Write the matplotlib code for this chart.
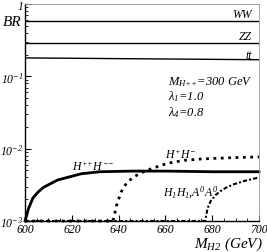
import numpy as np
import matplotlib
matplotlib.use('Agg')
import matplotlib.pyplot as plt
from matplotlib.ticker import FixedLocator, LogLocator, MultipleLocator, NullFormatter

plt.rcParams['font.family'] = ['Liberation Serif', 'DejaVu Serif']
plt.rcParams['font.style'] = 'italic'
plt.rcParams['mathtext.fontset'] = 'custom'
plt.rcParams['mathtext.rm'] = 'Liberation Serif:italic'
plt.rcParams['mathtext.it'] = 'Liberation Serif:italic'
plt.rcParams['mathtext.bf'] = 'Liberation Serif:bold:italic'

# flat channels
m_flat = [600, 700]
br_ww = [0.58, 0.58]
br_zz = [0.29, 0.29]
br_tt = [0.18, 0.17]

# H++ H--
m_hpp = [600, 601.5, 603.4, 605.5, 607.7, 611, 614, 618, 624, 632, 646, 660, 680, 700]
br_hpp = [0.001, 0.0015, 0.0021, 0.0025, 0.0029, 0.0033, 0.0037, 0.0040, 0.0045, 0.0048, 0.0049, 0.0049, 0.0048, 0.0048]

# H+ H-
m_hp = [600, 637.6, 639, 641, 643, 646, 650, 654, 661, 668, 675, 688, 700]
br_hp = [0.001, 0.001, 0.0016, 0.0025, 0.0032, 0.0040, 0.0047, 0.0053, 0.0063, 0.0069, 0.0072, 0.0075, 0.0077]

# H1 H1, A0 A0
m_h1 = [600, 677, 678, 679.4, 681.5, 683.6, 686, 689, 694, 700]
br_h1 = [0.001, 0.001, 0.0015, 0.0019, 0.0023, 0.0026, 0.0029, 0.0032, 0.0036, 0.0040]

fig = plt.figure(figsize=(2.67, 2.53), dpi=100)
ax = fig.add_axes([0.094, 0.1225, 0.876, 0.8575])

ax.plot(m_flat, br_ww, 'k-', lw=1.0)
ax.plot(m_flat, br_zz, 'k-', lw=1.0)
ax.plot(m_flat, br_tt, 'k-', lw=1.0)
ax.plot(m_hpp, br_hpp, 'k-', lw=2.0, clip_on=False)
ax.plot(m_hp, br_hp, 'k:', lw=2.0, clip_on=False)
ax.plot(m_h1, br_h1, color='k', ls=(0, (2, 1, 1, 1)), lw=1.5, clip_on=False)

ax.set_yscale('log')
ax.set_xlim(600, 700)
ax.set_ylim(1e-3, 1)

ax.xaxis.set_major_locator(MultipleLocator(20))
ax.xaxis.set_minor_locator(MultipleLocator(5))
ax.yaxis.set_major_locator(FixedLocator([1e-3, 1e-2, 1e-1, 1]))
ax.yaxis.set_minor_locator(LogLocator(base=10, subs=np.arange(2, 10)))
ax.yaxis.set_minor_formatter(NullFormatter())
ax.set_yticklabels(['$10^{-3}$', '$10^{-2}$', '$10^{-1}$', '$1$'])

ax.tick_params(which='both', direction='in', labelsize=8.5, top=False, right=False)
ax.tick_params(which='major', length=4, width=0.8)
ax.tick_params(which='minor', length=2, width=0.6)
ax.tick_params(axis='y', pad=1)
ax.tick_params(axis='x', pad=1.5)

for s in ['top', 'right']:
    ax.spines[s].set_color('0.6')
    ax.spines[s].set_linewidth(0.6)
ax.spines['left'].set_linewidth(1.0)
ax.spines['bottom'].set_linewidth(1.0)

fig.text(0.045, 0.913, 'BR', fontsize=11, ha='center', va='center')
fig.text(0.985, 0.035, '$M_{H2}$ (GeV)', fontsize=11, ha='right', va='center')

ax.text(697, 0.73, 'WW', fontsize=8.5, ha='right', va='center')
ax.text(697, 0.36, 'ZZ', fontsize=8.5, ha='right', va='center')
ax.text(697, 0.20, 'tt', fontsize=8.5, ha='right', va='center')
ax.text(661, 0.087, '$M_{H{+}{+}}$=300 GeV', fontsize=9, ha='left', va='center')
ax.text(661, 0.054, '$\\lambda_1$=1.0', fontsize=9, ha='left', va='center')
ax.text(661, 0.033, '$\\lambda_4$=0.8', fontsize=9, ha='left', va='center')
ax.text(620, 0.0058, '$H^{{+}{+}}H^{{-}{-}}$', fontsize=8.5, ha='left', va='center')
ax.text(660, 0.0085, '$H^{+}H^{-}$', fontsize=8.5, ha='left', va='center')
ax.text(659, 0.0025, '$H_1H_1$,$A^0A^0$', fontsize=8.5, ha='left', va='center')

fig.savefig('out.png', dpi=100)
